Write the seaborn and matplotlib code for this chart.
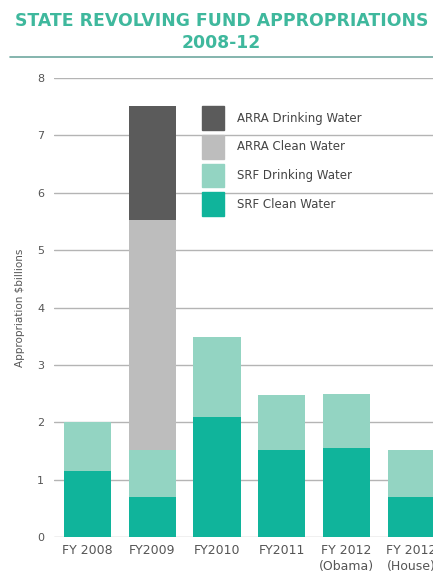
import numpy as np
import pandas as pd
import matplotlib
matplotlib.use("Agg")
import matplotlib.pyplot as plt
import matplotlib.patches as mpatches
import seaborn as sns

years = ["FY 2008", "FY2009", "FY2010", "FY2011", "FY 2012\n(Obama)", "FY 2012\n(House)"]
srf_clean = [1.15, 0.69, 2.10, 1.52, 1.55, 0.69]
srf_drinking = [0.85, 0.83, 1.39, 0.96, 0.95, 0.83]
arra_clean = [0, 4.0, 0, 0, 0, 0]
arra_drinking = [0, 2.0, 0, 0, 0, 0]

series = ["ARRA Drinking Water", "ARRA Clean Water", "SRF Drinking Water", "SRF Clean Water"]
colors = ["#5b5b5b", "#bdbdbd", "#93d4c2", "#10b49b"]

df = pd.DataFrame({"year": years, "SRF Clean Water": srf_clean,
                   "SRF Drinking Water": srf_drinking,
                   "ARRA Clean Water": arra_clean,
                   "ARRA Drinking Water": arra_drinking})
# cumulative heights, bottom series first
stack = ["SRF Clean Water", "SRF Drinking Water", "ARRA Clean Water", "ARRA Drinking Water"]
cum = df[stack].cumsum(axis=1)

sns.set_style("white")
plt.rcParams['font.family'] = ['DejaVu Sans']

fig = plt.figure(figsize=(4.33, 5.77), dpi=100)
ax = fig.add_axes([54/433, 40/577, 396/433, 459/577])

for name, col in zip(series, colors):
    sns.barplot(x=df["year"], y=cum[name], color=col, width=0.73, ax=ax,
                order=years, saturation=1, linewidth=0, zorder=3)

ax.set_ylim(0, 8)
ax.set_xlim(-0.52, 5.6)
ax.set_yticks(range(0, 9))
ax.grid(axis="y", color="#b4b4b4", linewidth=1, zorder=0)
ax.set_axisbelow(True)
for s in ax.spines.values():
    s.set_visible(False)
ax.tick_params(axis="y", length=0, labelsize=8, colors="#555555", pad=7)
ax.tick_params(axis="x", length=0, labelsize=9, colors="#555555", pad=5)
for lab in ax.get_xticklabels():
    lab.set_linespacing(1.35)
ax.set_xlabel("")
ax.set_ylabel("Appropriation $billions", fontsize=7.5, color="#555555", labelpad=9)

handles = [mpatches.Patch(color=c, label=n) for n, c in zip(series, colors)]
ax.legend(handles=handles, loc="upper left", bbox_to_anchor=(0.346, 0.962),
          frameon=False, fontsize=8.5, handlelength=1.9, handleheight=2.75,
          labelspacing=0.4, handletextpad=1.1, labelcolor="#444444")

fig.text(0.512, 0.964, "STATE REVOLVING FUND APPROPRIATIONS", ha="center", va="center",
         fontsize=12.4, fontweight="bold", color="#3fb89d")
fig.text(0.512, 0.926, "2008-12", ha="center", va="center",
         fontsize=12.4, fontweight="bold", color="#3fb89d")
fig.add_artist(plt.Line2D([10/433, 1], [1 - 57/577, 1 - 57/577],
                          color="#6fa8a0", linewidth=1.2))

fig.savefig("out.png", dpi=100)
